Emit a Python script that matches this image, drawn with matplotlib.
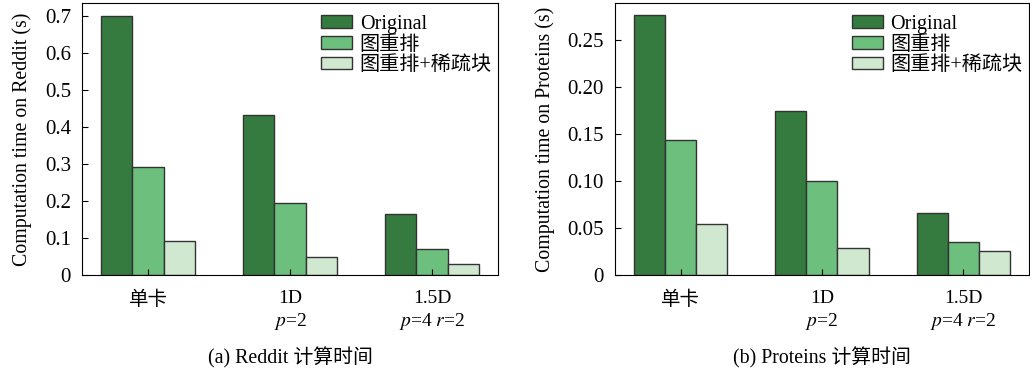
import matplotlib
matplotlib.use('Agg')
import matplotlib.pyplot as plt
import numpy as np

plt.rcParams['font.family'] = ['Liberation Serif', 'Noto Sans CJK SC']
plt.rcParams['mathtext.fontset'] = 'stix'

groups = ['单卡', '1D\n$p$=2', '1.5D\n$p$=4 $r$=2']
series = ['Original', '图重排', '图重排+稀疏块']
colors = ['#357a3f', '#6dbf7e', '#cfe8cf']

reddit_original = [0.700, 0.432, 0.165]
reddit_reorder = [0.293, 0.195, 0.070]
reddit_sparse = [0.093, 0.048, 0.030]

proteins_original = [0.276, 0.174, 0.066]
proteins_reorder = [0.143, 0.100, 0.035]
proteins_sparse = [0.054, 0.029, 0.026]

reddit_ticks = [0, 0.1, 0.2, 0.3, 0.4, 0.5, 0.6, 0.7]
reddit_ticklabels = ['0', '0.1', '0.2', '0.3', '0.4', '0.5', '0.6', '0.7']
proteins_ticks = [0, 0.05, 0.10, 0.15, 0.20, 0.25]
proteins_ticklabels = ['0', '0.05', '0.10', '0.15', '0.20', '0.25']


def draw_panel(ax, data, ylabel, caption, ticks, ticklabels, ymax):
    x = np.arange(len(groups))
    w = 0.22
    for i, vals in enumerate(data):
        ax.bar(x + (i - 1) * w, vals, w, color=colors[i], edgecolor='#333333',
               linewidth=1.0, label=series[i])
    ax.set_xlim(-0.465, 2.465)
    ax.set_ylim(0, ymax)
    ax.set_xticks(x)
    ax.set_xticklabels(groups, fontsize=14, linespacing=1.28)
    ax.set_yticks(ticks)
    ax.set_yticklabels(ticklabels, fontsize=15)
    ax.tick_params(direction='in', length=4, width=0.8)
    ax.tick_params(axis='x', pad=11)
    ax.tick_params(axis='y', pad=8)
    ax.set_ylabel(ylabel, fontsize=14.3, labelpad=9)
    ax.set_xlabel(caption, fontsize=14.3, labelpad=11)
    ax.legend(loc='upper right', bbox_to_anchor=(0.997, 0.975), frameon=False,
              fontsize=14.5, handlelength=1.5, handleheight=0.6,
              labelspacing=0.08, borderaxespad=0, borderpad=0.25,
              handletextpad=0.4)


fig = plt.figure(figsize=(10.3, 3.72), dpi=100)
ax1 = fig.add_axes([0.0796, 0.2608, 0.404, 0.731])
ax2 = fig.add_axes([0.597, 0.2608, 0.402, 0.731])

draw_panel(ax1, [reddit_original, reddit_reorder, reddit_sparse],
           'Computation time on Reddit (s)', '(a) Reddit 计算时间',
           reddit_ticks, reddit_ticklabels, 0.735)
draw_panel(ax2, [proteins_original, proteins_reorder, proteins_sparse],
           'Computation time on Proteins (s)', '(b) Proteins 计算时间',
           proteins_ticks, proteins_ticklabels, 0.289)

fig.savefig('out.png', dpi=100)
